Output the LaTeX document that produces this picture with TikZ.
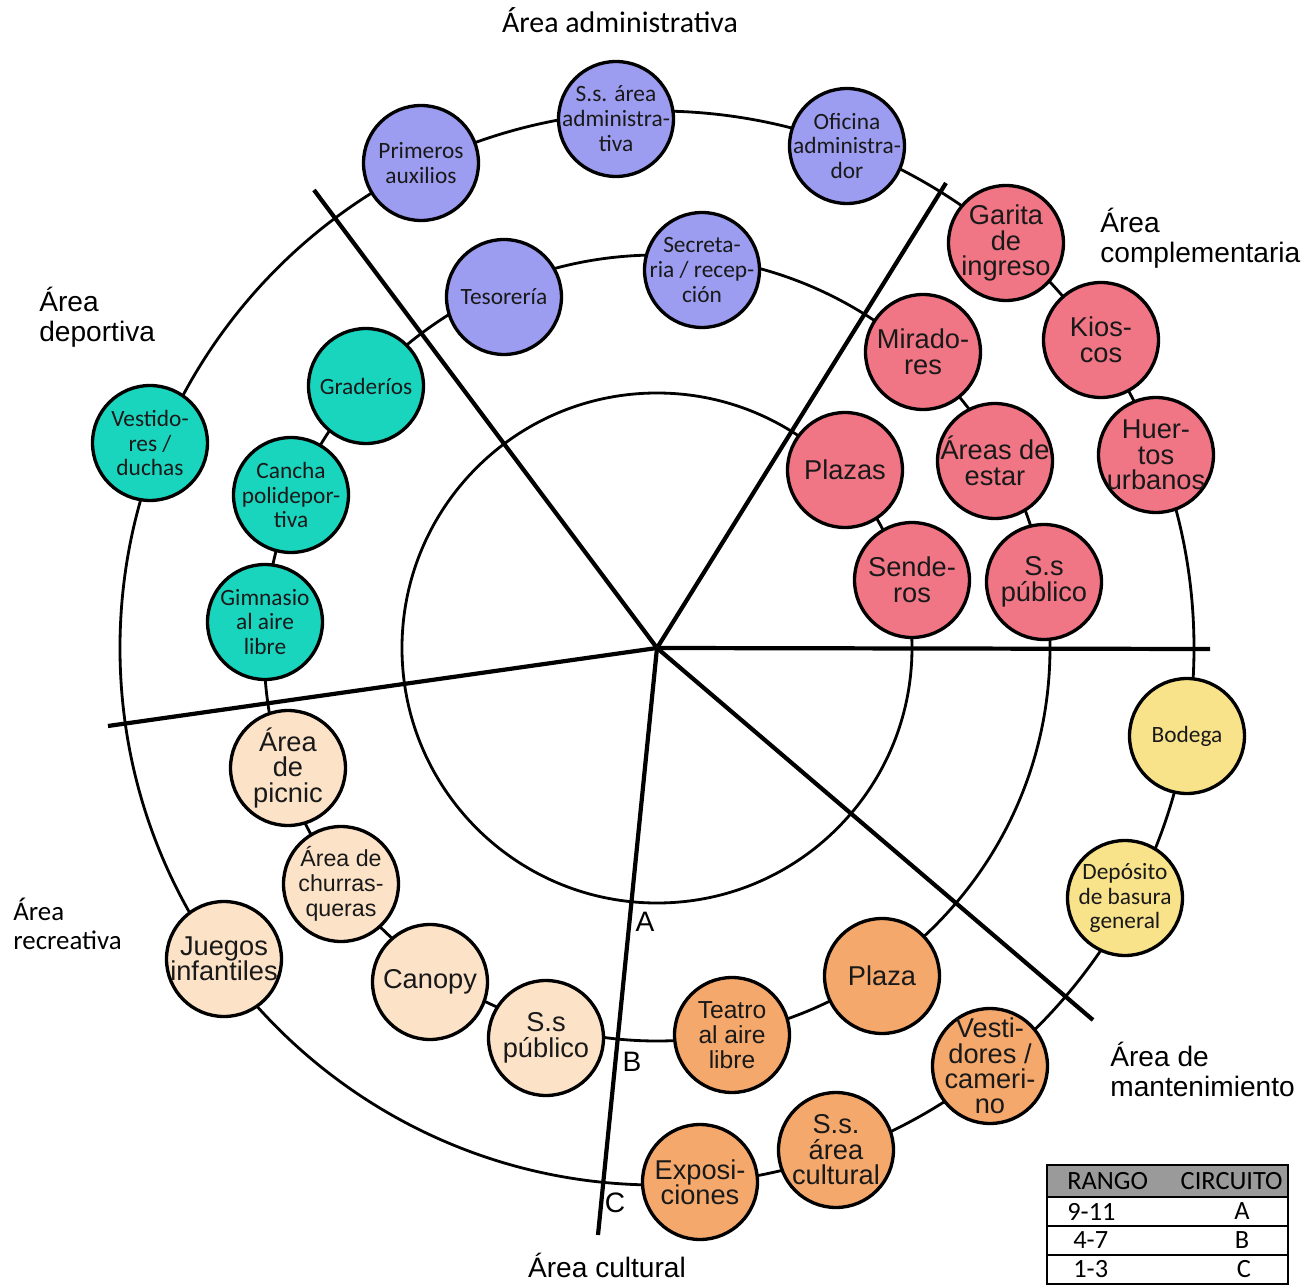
\documentclass[tikz,border=0pt]{standalone}
\usepackage{fontspec}
\setmainfont{Liberation Sans}
\newfontfamily\fuentecal{Carlito}
\usetikzlibrary{positioning}

\definecolor{colAdm}{HTML}{9C9CF0}
\definecolor{colComp}{HTML}{F07585}
\definecolor{colDep}{HTML}{19D5BE}
\definecolor{colRec}{HTML}{FCE3C8}
\definecolor{colCult}{HTML}{F5A86C}
\definecolor{colMant}{HTML}{F9E38A}
\definecolor{grisTabla}{HTML}{9A9A9A}

\newcommand{\txtarial}{\fontsize{15.5}{14.5}\selectfont}
\newcommand{\txtcal}{\fuentecal\fontsize{13.3}{14.2}\selectfont}

\tikzstyle{espacio} = [circle, draw=black, line width=1.9pt, minimum size=2.3cm,
inner sep=-8mm, align=center, text=black!90]
\tikzstyle{administrativa} = [espacio, fill=colAdm, font=\txtcal]
\tikzstyle{complementaria} = [espacio, fill=colComp, font=\txtarial]
\tikzstyle{deportiva} = [espacio, fill=colDep, font=\txtcal]
\tikzstyle{recreativa} = [espacio, fill=colRec, font=\txtarial]
\tikzstyle{cultural} = [espacio, fill=colCult, font=\txtarial]
\tikzstyle{mantenimiento} = [espacio, fill=colMant, font=\txtcal]
\tikzstyle{circuito} = [line width=1.6pt]
\tikzstyle{divisor} = [line width=2.4pt]
\tikzstyle{rotulo} = [align=left, inner sep=0pt, font=\fontsize{16}{17}\selectfont]
\tikzstyle{letra} = [inner sep=0pt, font=\fontsize{16}{18}\selectfont]
\tikzstyle{fila} = [rectangle, draw=black, line width=1.2pt, minimum width=4.82cm,
minimum height=0.58cm, inner sep=0pt, outer sep=0pt]
\tikzstyle{celda} = [inner sep=0pt, font=\fuentecal\fontsize{15}{17}\selectfont]

\begin{document}
\begin{tikzpicture}[x=0.02cm, y=0.02cm]
              \useasboundingbox (-657,-637) rectangle (658,648);

              \coordinate (cen) at (0,0);
              \coordinate (lim1) at (-343,458);
              \coordinate (lim2) at (289,465);
              \coordinate (lim3) at (553,-1);
              \coordinate (lim4) at (436,-372);
              \coordinate (lim5) at (-59,-587);
              \coordinate (lim6) at (-549,-78);

              \draw [circuito] (cen) circle [radius=255];
              \draw [circuito] (cen) circle [radius=393];
              \draw [circuito] (cen) circle [radius=537];

              \draw [divisor] (cen) -- (lim1);
              \draw [divisor] (cen) -- (lim2);
              \draw [divisor] (cen) -- (lim3);
              \draw [divisor] (cen) -- (lim4);
              \draw [divisor] (cen) -- (lim5);
              \draw [divisor] (cen) -- (lim6);

              \node (primeros) [administrativa] at (-236,485) {Primeros\\auxilios};
              \node (ssadm) [administrativa] at (-41,529) {S.s. área\\administra-\\tiva};
              \node (oficina) [administrativa] at (190,502) {Oficina\\administra-\\dor};
              \node (tesoreria) [administrativa] at (-153,351) {Tesorería};
              \node (secretaria) [administrativa] at (45,378) {Secreta-\\ria / recep-\\ción};

              \node (garita) [complementaria] at (349,405) {Garita\\de\\ingreso};
              \node (kioscos) [complementaria] at (444,308) {Kios-\\cos};
              \node (huertos) [complementaria] at (499,193) {Huer-\\tos\\urbanos};
              \node (miradores) [complementaria] at (266,296) {Mirado-\\res};
              \node (plazas) [complementaria] at (188,178) {Plazas};
              \node (estar) [complementaria] at (338,187) {Áreas de\\estar};
              \node (senderos) [complementaria] at (255,68) {Sende-\\ros};
              \node (sscomp) [complementaria] at (387,66) {S.s\\público};

              \node (bodega) [mantenimiento] at (530,-88) {Bodega};
              \node (deposito) [mantenimiento] at (468,-250) {Depósito\\de basura\\general};

              \node (plaza) [cultural] at (225,-328) {Plaza};
              \node (teatro) [cultural, font=\fontsize{14}{14.2}\selectfont] at (75,-387)
              {Teatro\\al aire\\libre};
              \node (exposiciones) [cultural] at (43,-534) {Exposi-\\ciones};
              \node (sscult) [cultural] at (179,-502) {S.s.\\área\\cultural};
              \node (camerino) [cultural] at (333,-418) {Vesti-\\dores /\\cameri-\\no};

              \node (picnic) [recreativa] at (-369,-120) {Área\\de\\picnic};
              \node (churras) [recreativa, font=\fontsize{13.2}{14.2}\selectfont] at (-316,-236)
              {Área de\\churras-\\queras};
              \node (canopy) [recreativa] at (-227,-334) {Canopy};
              \node (ssrec) [recreativa] at (-111,-390) {S.s\\público};
              \node (juegos) [recreativa] at (-433,-311) {Juegos\\infantiles};

              \node (duchas) [deportiva] at (-507,205) {Vestido-\\res /\\duchas};
              \node (graderios) [deportiva] at (-291,262) {Graderíos};
              \node (cancha) [deportiva] at (-366,153) {Cancha\\polidepor-\\tiva};
              \node (gimnasio) [deportiva] at (-392,26) {Gimnasio\\al aire\\libre};

              \node (cirA) [letra] at (-12,-274) {A};
              \node (cirB) [letra] at (-25,-414) {B};
              \node (cirC) [letra] at (-42,-555) {C};

              \node (lbadm) [rotulo, font=\fuentecal\fontsize{17}{18}\selectfont] at (-37,628)
              {Área administrativa};
              \node (lbcomp) [rotulo, anchor=north west] at (443,440) {Área\\complementaria};
              \node (lbdep) [rotulo, anchor=north west] at (-618,361) {Área\\deportiva};
              \node (lbrec) [rotulo, anchor=north west, font=\fuentecal\fontsize{15.3}{16.5}\selectfont]
              at (-644,-250) {Área\\recreativa};
              \node (lbcult) [rotulo] at (-50,-617) {Área cultural};
              \node (lbmant) [rotulo, anchor=north west] at (453,-394) {Área de\\mantenimiento};

              \node (cabecera) [fila, fill=grisTabla, minimum height=0.64cm] at (510.5,-533) {};
              \node (fila1) [fila, below=0pt of cabecera] {};
              \node (fila2) [fila, below=0pt of fila1] {};
              \node (fila3) [fila, below=0pt of fila2] {};
              \node (rango) [celda, anchor=west, right=0.4cm of cabecera.west] {RANGO};
              \node (circuito) [celda, anchor=east, left=0.1cm of cabecera.east] {CIRCUITO};
              \node (r1) [celda, anchor=west, right=0.4cm of fila1.west] {9-11};
              \node (r2) [celda, anchor=west, right=0.52cm of fila2.west] {4-7};
              \node (r3) [celda, anchor=west, right=0.52cm of fila3.west] {1-3};
              \node (c1) [celda] at ([xshift=-0.92cm]fila1.east) {A};
              \node (c2) [celda] at ([xshift=-0.92cm]fila2.east) {B};
              \node (c3) [celda] at ([xshift=-0.88cm]fila3.east) {C};
            \end{tikzpicture}
\end{document}
